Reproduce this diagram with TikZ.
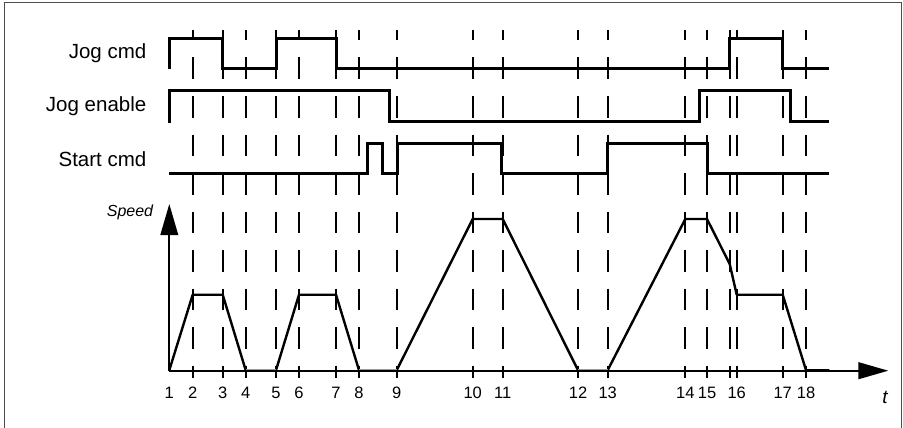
\documentclass[tikz,border=0pt]{standalone}
\usepackage{fontspec}
\setmainfont{Liberation Sans}
\usetikzlibrary{arrows.meta}
\begin{document}
\begin{tikzpicture}[x=1pt,y=-1pt,
  sig/.style={line width=3pt, line join=miter},
  gridline/.style={line width=2.3pt, dash pattern=on 21.5pt off 17pt, dash phase=11pt},
  prof/.style={line width=2.4pt, line join=round},
  axis/.style={line width=2pt},
  zero/.style={line width=1pt, black!40},
  lbl/.style={inner sep=0pt, anchor=base east, font=\fontsize{20.5}{24}\selectfont},
  num/.style={inner sep=0pt, anchor=base, font=\fontsize{16.5}{20}\selectfont}]
\useasboundingbox (0,0) rectangle (903,428);
\draw[line width=1.2pt, black!70] (4.3,2.7) rectangle (901.7,445);
% labels
\node[lbl] (ljog) at (146.5,58.3) {Jog cmd};
\node[lbl] (len) at (146.5,111.7) {Jog enable};
\node[lbl] (lstart) at (146.5,166.7) {Start cmd};
\node[inner sep=0pt, anchor=base east, font=\fontsize{16}{19}\selectfont\itshape] (lspeed) at (153.3,216.7) {Speed};
\node[inner sep=0pt, anchor=base, font=\fontsize{19}{22}\selectfont\itshape] (lt) at (885,403) {t};
% dashed time markers
\foreach \x in {192.7,222.7,245.7,276,299,336,359,396.7,472.7,502.7,578,607.7,685.3,707,729.7,736.7,782.7,806}
  \draw[gridline] (\x,30) -- (\x,378);
% numbers
\foreach \x/\n in {169.3/1,192.7/2,222.7/3,245.7/4,276/5,299/6,336/7,359/8,396.7/9,472.7/10,502.7/11,578/12,607.7/13,685.3/14,707/15,736.7/16,782.7/17,806/18}
  \node[num] at (\x,398.5) {\n};
% signals
\draw[sig] (169.3,69.3) -- (169.3,38.3) -- (222.7,38.3) -- (222.7,68.3) -- (276,68.3) -- (276,38.3) -- (336,38.3) -- (336,68.3) -- (729.5,68.3) -- (729.5,38.3) -- (782.7,38.3) -- (782.7,68.3) -- (829.3,68.3);
\draw[sig] (169.3,122.5) -- (169.3,90.7) -- (389.3,90.7) -- (389.3,121.7) -- (699,121.7) -- (699,90.7) -- (790.7,90.7) -- (790.7,121.7) -- (829.3,121.7);
\draw[sig] (169.3,173.9) -- (367.2,173.9) -- (367.2,143.3) -- (382.3,143.3) -- (382.3,173.9) -- (397.5,173.9) -- (397.5,143.3) -- (501.7,143.3) -- (501.7,173.9) -- (607.7,173.9) -- (607.7,143.3) -- (707.7,143.3) -- (707.7,173.9) -- (829.3,173.9);
% axes
\coordinate (O) at (169.3,370.7);
\coordinate (ytip) at (169.3,204);
\coordinate (xtip) at (888.3,370.7);
\draw[axis, -{Triangle[length=31pt,width=17.5pt]}] (O) -- (ytip);
\draw[axis, -{Triangle[length=30pt,width=16.7pt]}] (O) -- (xtip);
% speed profile
\draw[prof] (169.3,370.2) -- (192.7,294.7) -- (222.7,294.7) -- (245.7,370.2);
\draw[prof] (276,370.2) -- (299,294.7) -- (336,294.7) -- (359,370.2);
\draw[prof] (396.7,370.2) -- (472.7,219) -- (502.7,219) -- (578,370.2);
\draw[prof] (607.7,370.2) -- (685.3,219) -- (707,219) -- (729.7,264) -- (736.7,294.7) -- (782.7,294.7) -- (806,370.2) -- (829.3,370.2);
\draw[zero] (245.7,369.4) -- (276,369.4);
\draw[zero] (359,369.4) -- (396.7,369.4);
\draw[zero] (578,369.4) -- (607.7,369.4);
\end{tikzpicture}
\end{document}
